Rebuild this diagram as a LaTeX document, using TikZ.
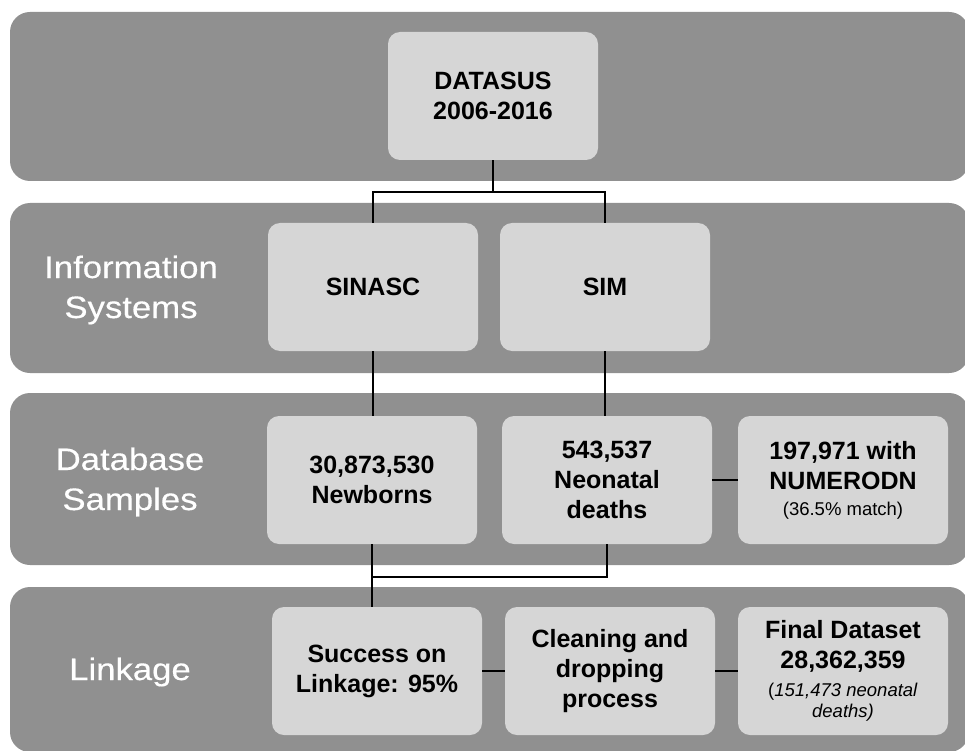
\documentclass[tikz,border=0pt]{standalone}
\usepackage{fontspec}
\setmainfont{Liberation Sans}
\newfontfamily\bandfont[FakeStretch=1.12,FakeBold=0.4]{Liberation Sans}
\newcommand\smallfont{\fontsize{18.5}{22}\selectfont\mdseries}
\definecolor{bandgray}{HTML}{909090}
\definecolor{boxgray}{HTML}{D6D6D6}

\begin{document}
\begin{tikzpicture}[x=1pt, y=-1pt,
    band/.style={fill=bandgray, rounded corners=20pt},
    box/.style={fill=boxgray, rounded corners=12pt, minimum width=210pt, minimum height=128pt,
        inner sep=0pt, align=center, font=\fontsize{25}{30}\selectfont\bfseries},
    bandlabel/.style={text=white, align=center, font=\bandfont\fontsize{31}{40}\selectfont},
    link/.style={line width=2pt}]
    \useasboundingbox (0,0) rectangle (965,751);
    \clip (0,0) rectangle (965,751);

    % Bands
    \fill[band] (10,12) rectangle (969,181);
    \fill[band] (10,203) rectangle (969,373);
    \fill[band] (10,393) rectangle (969,565);
    \fill[band] (10,587) rectangle (969,752);

    \node[bandlabel] (infolabel) at (131,290) {Information\\Systems};
    \node[bandlabel] (samplelabel) at (130,482) {Database\\Samples};
    \node[bandlabel] (linklabel) at (130,672) {Linkage};

    % Source
    \node[box] (datasus) at (493,96) {DATASUS\\2006-2016};

    % Systems
    \node[box] (sinasc) at (373,287) {SINASC};
    \node[box] (sim) at (605,287) {SIM};

    % Samples
    \node[box] (newborns) at (372,480) {30,873,530\\Newborns};
    \node[box] (neonatal) at (607,480) {543,537\\Neonatal\\deaths};
    \node[box] (numerodn) at (843,480) {197,971 with\\NUMERODN\\[-4pt]{\smallfont(36.5\% match)}};

    % Linkage
    \node[box] (success) at (377,671) {Success on\\Linkage: 95\%};
    \node[box] (cleaning) at (610,671) {Cleaning and\\dropping\\process};
    \node[box] (final) at (843,671) {Final Dataset\\28,362,359\\[-2pt]{\smallfont(\textit{151,473 neonatal}}\\[-9pt]{\smallfont\textit{deaths)}}};

    % Connectors
    \coordinate (split) at (493,192);
    \coordinate (join) at (372,577);
    \draw[link] (datasus) -- (split);
    \draw[link] (sinasc) |- (split) -| (sim);
    \draw[link] (sinasc.south) -- (sinasc.south |- newborns.north);
    \draw[link] (sim.south) -- (sim.south |- neonatal.north);
    \draw[link] (neonatal) -- (numerodn);
    \draw[link] (newborns.south) -- (newborns.south |- success.north);
    \draw[link] (neonatal.south) |- (join);
    \draw[link] (success) -- (cleaning) -- (final);
\end{tikzpicture}
\end{document}
